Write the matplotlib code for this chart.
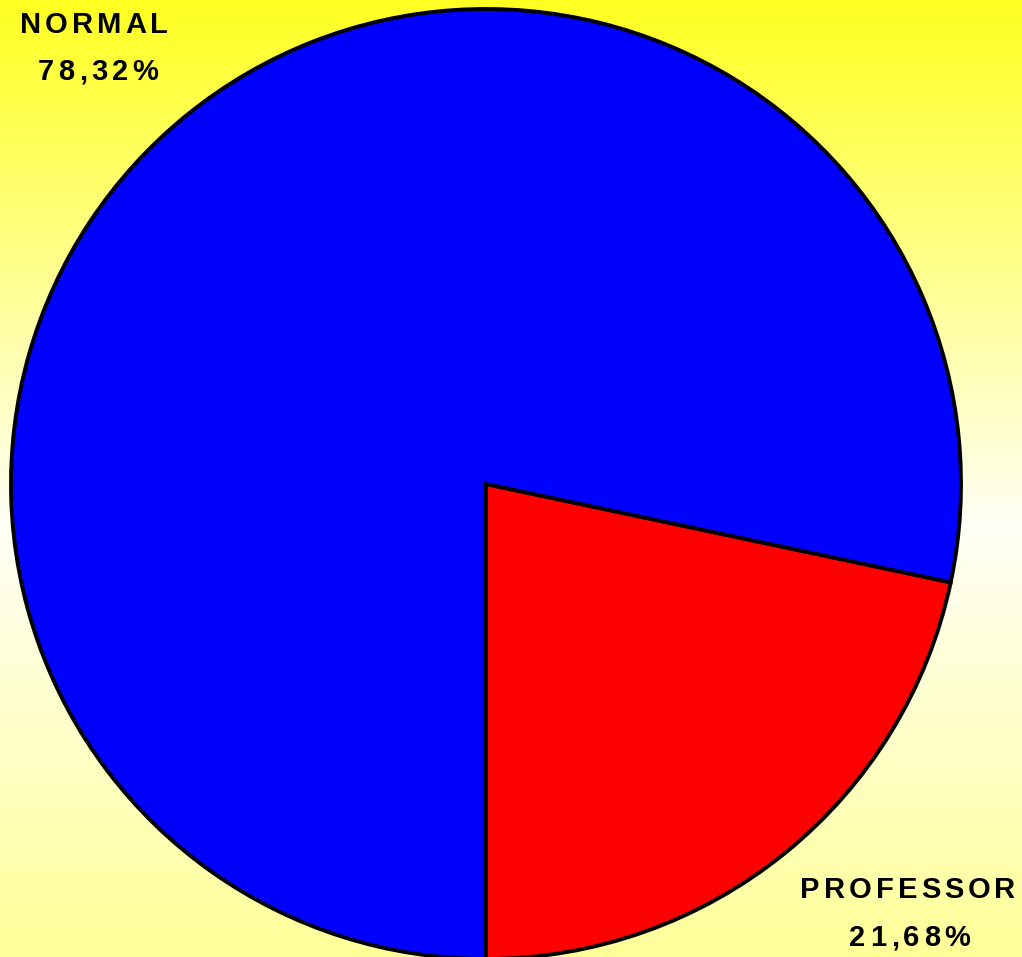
import numpy as np
import matplotlib
matplotlib.use("Agg")
import matplotlib.pyplot as plt
from matplotlib.colors import LinearSegmentedColormap

# Datos del gráfico
categorias = ["PROFESSOR", "NORMAL"]
porcentajes = [21.68, 78.32]
colores = ["#ff0000", "#0000ff"]
etiquetas_pct = ["21,68%", "78,32%"]

W, H = 1022, 957
fig = plt.figure(figsize=(W / 100, H / 100), dpi=100)

# Fondo degradado: amarillo arriba, blanco al centro, amarillo claro abajo
bg = fig.add_axes([0, 0, 1, 1], zorder=0)
cmap = LinearSegmentedColormap.from_list(
    "fondo", [(0.0, "#ffff99"), (0.45, "#fffff6"), (1.0, "#ffff22")])
grad = np.linspace(0, 1, 256).reshape(-1, 1)
bg.imshow(grad, cmap=cmap, aspect="auto", origin="lower", extent=[0, 1, 0, 1])
bg.axis("off")

ax = fig.add_axes([0, 0, 1, 1], zorder=1)
ax.patch.set_alpha(0)

ax.pie(porcentajes, colors=colores, startangle=270, counterclock=True,
       center=(486, H - 484), radius=475, frame=True,
       wedgeprops=dict(edgecolor="black", linewidth=2.8))
ax.set_xlim(0, W)
ax.set_ylim(0, H)
ax.axis("off")


def texto_espaciado(x, y, s, size, gap):
    # dibuja el texto letra por letra con separación extra (en píxeles)
    r = fig.canvas.get_renderer()
    anchos = []
    for ch in s:
        t = ax.text(0, 0, ch, fontsize=size, fontweight="bold",
                    family="Liberation Sans")
        anchos.append(t.get_window_extent(r).width)
        t.remove()
    total = sum(anchos) + gap * (len(s) - 1)
    cx = x - total / 2
    for ch, w in zip(s, anchos):
        ax.text(cx, H - y, ch, fontsize=size, fontweight="bold",
                family="Liberation Sans", ha="left", va="center",
                color="black")
        cx += w + gap


texto_espaciado(94, 25, categorias[1], 21, 4)
texto_espaciado(98, 72, etiquetas_pct[1], 21, 4.5)
texto_espaciado(908, 890, categorias[0], 21, 4)
texto_espaciado(910, 938, etiquetas_pct[0], 21, 4.5)

fig.savefig("out.png", dpi=100)
